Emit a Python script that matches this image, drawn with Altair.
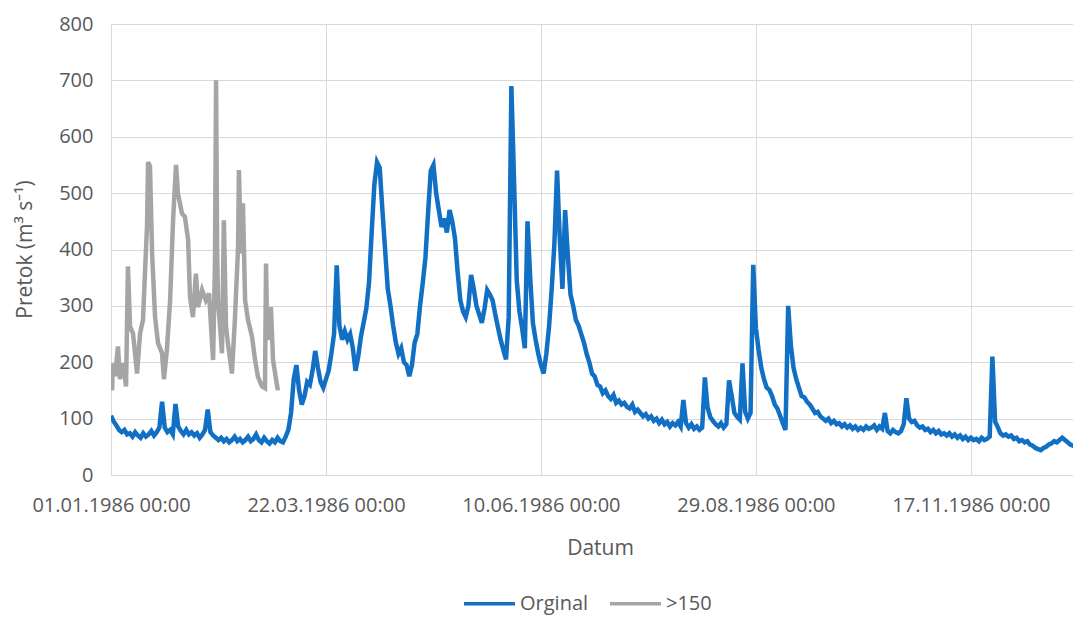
import altair as alt
import pandas as pd

# x-axis ticks (days since 01.01.1986) and their labels
tick_days = [0, 80, 160, 240, 320]
tick_labels = ["01.01.1986 00:00", "22.03.1986 00:00", "10.06.1986 00:00",
               "29.08.1986 00:00", "17.11.1986 00:00"]
y_ticks = [0, 100, 200, 300, 400, 500, 600, 700, 800]

series_names = ["Orginal", ">150"]
series_colors = ["#1170C4", "#A5A5A5"]

# "Orginal": one value per day, starting 01.01.1986
orginal_values = [
    105, 95, 88, 80, 76, 80, 72, 74, 68, 76,
    70, 66, 74, 68, 72, 78, 70, 76, 84, 130,
    84, 76, 80, 72, 126, 86, 78, 72, 80, 72,
    76, 70, 74, 66, 72, 80, 116, 76, 70, 66,
    62, 66, 60, 64, 58, 62, 68, 60, 64, 58,
    62, 68, 60, 64, 72, 62, 58, 66, 60, 56,
    62, 58, 66, 60, 58, 68, 80, 110, 170, 195,
    150, 125, 140, 165, 160, 185, 220, 190, 165, 155,
    170, 185, 215, 250, 372, 265, 240, 255, 240, 250,
    225, 185, 210, 245, 270, 295, 340, 430, 515, 555,
    545, 470, 400, 330, 300, 265, 235, 215, 225, 200,
    195, 175, 195, 235, 250, 300, 340, 385, 465, 540,
    550, 500, 470, 440, 455, 430, 470, 450, 420, 360,
    310, 290, 280, 300, 355, 330, 300, 285, 270, 295,
    328, 320, 310, 285, 262, 240, 222, 205, 280, 690,
    520, 345, 290, 260, 225, 450, 350, 270, 240, 215,
    195, 180, 215, 262, 330, 410, 540, 420, 330, 470,
    390, 320, 300, 275, 265, 250, 235, 215, 200, 180,
    175, 160, 157, 145, 150, 140, 135, 142, 128, 132,
    125, 128, 121, 118, 125, 112, 116, 110, 104, 108,
    100, 104, 96, 100, 92, 98, 90, 94, 86, 92,
    88, 94, 86, 133, 92, 84, 90, 82, 86, 80,
    84, 173, 120, 103, 96, 90, 86, 92, 84, 90,
    168, 140, 110, 103, 98, 198, 112, 100, 110, 373,
    260, 222, 190, 170, 155, 151, 140, 125, 118, 105,
    92, 80, 300, 230, 190, 170, 155, 140, 138, 130,
    125, 118, 110, 112, 104, 100, 96, 100, 92, 96,
    90, 92, 86, 90, 84, 88, 82, 86, 80, 84,
    80, 86, 82, 84, 88, 80, 86, 82, 110, 78,
    74, 80, 76, 74, 78, 90, 136, 100, 94, 96,
    88, 84, 86, 80, 82, 76, 80, 74, 78, 72,
    74, 70, 74, 68, 72, 66, 70, 64, 68, 62,
    66, 62, 64, 60, 66, 62, 64, 68, 210, 95,
    85, 74, 70, 72, 68, 70, 64, 66, 60, 62,
    58, 60, 54, 52, 48, 46, 44, 48, 50, 54,
    56, 60, 58, 62, 66, 62, 58, 54, 52, 50, 52, 50,
]
orginal_days = list(range(len(orginal_values)))

# ">150" series
gt150_days = [0, 0.4, 0.7, 1.5, 2.6, 3.3, 4.5, 5.6, 6.3, 7.1,
              8.2, 9.7, 10.8, 11.9, 12.7, 13.4, 13.8, 14.5, 15.3, 16.4,
              17.5, 19.0, 19.7, 20.8, 22.0, 23.1, 24.2, 24.9, 26.4, 27.5,
              28.7, 29.4, 30.5, 31.6, 32.4, 33.9, 35.3, 36.5, 37.6, 38.0,
              38.7, 39.1, 39.5, 39.8, 40.6, 41.3, 42.0, 42.8, 43.5, 45.0,
              46.1, 47.3, 47.6, 48.4, 49.1, 49.9, 51.0, 52.5, 53.6, 54.7,
              56.2, 57.3, 57.7, 58.1, 58.8, 59.5, 60.3, 61.4, 62.1]
gt150_values = [170, 150, 198, 175, 228, 170, 198, 157, 370, 263,
                251, 180, 251, 275, 365, 440, 555, 548, 393, 280,
                234, 216, 170, 222, 310, 452, 550, 500, 464, 458,
                417, 316, 280, 357, 298, 328, 310, 322, 234, 204,
                381, 700, 400, 310, 263, 216, 452, 263, 234, 180,
                275, 405, 541, 393, 482, 310, 275, 245, 204, 174,
                157, 154, 375, 250, 240, 298, 204, 170, 150]

df = pd.concat([
    pd.DataFrame({"series": series_names[0], "day": orginal_days, "value": orginal_values}),
    pd.DataFrame({"series": series_names[1], "day": gt150_days, "value": gt150_values}),
], ignore_index=True)

label_expr = "[" + ",".join("'" + t + "'" for t in tick_labels) + "][round(datum.value / 80)]"

FONT = "Open Sans"
TXT = "#595959"
GRID = "#D9D9D9"

chart = alt.Chart(df).mark_line(strokeWidth=4.5, clip=True).encode(
    x=alt.X("day:Q",
            scale=alt.Scale(domain=[0, 358], nice=False, zero=False),
            axis=alt.Axis(values=tick_days, labelExpr=label_expr, title="Datum",
                          grid=True, gridColor=GRID, domainColor=GRID, ticks=False,
                          labelFont=FONT, labelFontSize=20, labelColor=TXT,
                          labelPadding=20, labelFlush=False, labelOverlap=False,
                          titleFont=FONT, titleFontSize=21, titleColor=TXT,
                          titleFontWeight="normal", titlePadding=22, titleX=489)),
    y=alt.Y("value:Q",
            scale=alt.Scale(domain=[0, 800], nice=False),
            axis=alt.Axis(values=y_ticks, title="Pretok (m³ s⁻¹)",
                          grid=True, gridColor=GRID, domain=False, ticks=False,
                          labelFont=FONT, labelFontSize=20, labelColor=TXT,
                          labelPadding=18,
                          titleFont=FONT, titleFontSize=21, titleColor=TXT,
                          titleFontWeight="normal", titleX=-86, titleY=225,
                          titleBaseline="middle", titleAlign="center", titleAngle=270)),
    color=alt.Color("series:N",
                    scale=alt.Scale(domain=series_names, range=series_colors),
                    sort=series_names,
                    legend=alt.Legend(title=None, orient="none", direction="horizontal",
                                      legendX=351, legendY=552,
                                      symbolType="stroke", symbolStrokeWidth=3.5,
                                      symbolSize=2600, labelFont=FONT, labelFontSize=20,
                                      labelColor=TXT, columnPadding=14, labelOffset=3)),
).properties(
    width=962, height=451,
    padding={"left": 103, "top": 16, "right": 0, "bottom": 145},
    autosize="none",
).configure_view(stroke=None)

chart.save("out.html", embed_options={"renderer": "svg", "actions": False})
